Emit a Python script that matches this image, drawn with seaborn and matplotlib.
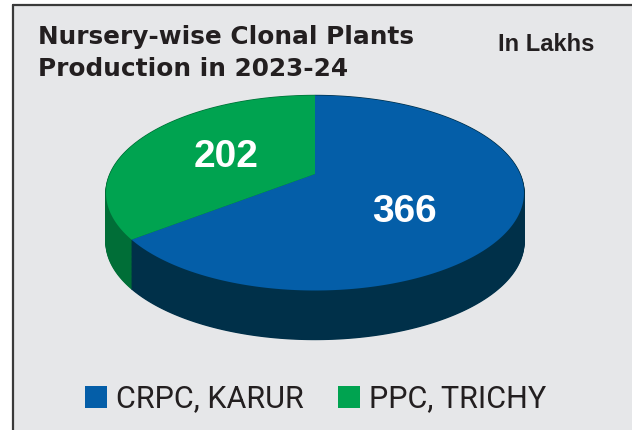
import matplotlib
matplotlib.use("Agg")
import matplotlib.pyplot as plt
import matplotlib.transforms as mtransforms
from matplotlib.path import Path
import seaborn as sns
import numpy as np
from matplotlib.patches import Rectangle
from matplotlib.lines import Line2D

# data
nurseries = ["CRPC, KARUR", "PPC, TRICHY"]
plants_lakhs = [366, 202]
top_colors = ["#045EA8", "#00A350"]
side_colors = ["#003049", "#006E37"]

W, H = 632, 430


class Perspective(mtransforms.Transform):
    """Tilted-plane projection so the pie looks like a 3D disc."""
    input_dims = output_dims = 2
    is_separable = False
    has_inverse = False

    def __init__(self, k):
        super().__init__()
        self.k = k

    def transform_non_affine(self, values):
        values = np.asarray(values, dtype=float)
        d = 1 + self.k * values[:, 1]
        return np.column_stack([values[:, 0] / d, values[:, 1] / d])

    def transform_path_non_affine(self, path):
        # flatten the bezier arcs finely before projecting
        polys = path.to_polygons(transform=mtransforms.Affine2D().scale(2000),
                                 closed_only=True)
        verts = np.concatenate(polys) / 2000
        codes = np.concatenate([[Path.MOVETO] + [Path.LINETO] * (len(p) - 2) + [Path.CLOSEPOLY]
                                for p in polys])
        return Path(self.transform_non_affine(verts), codes)


sns.set_style("white")
plt.rcParams["font.family"] = ["DejaVu Sans"]

fig = plt.figure(figsize=(W / 100, H / 100), dpi=100)
fig.patch.set_facecolor("white")

# grey panel with dark top/left border
fig.patches.append(Rectangle((13 / W, 0), 1, 1 - 5 / H, transform=fig.transFigure,
                             facecolor="#E6E7E9", edgecolor="none", zorder=-5))
fig.lines.append(Line2D([13 / W, 1], [1 - 5 / H, 1 - 5 / H], transform=fig.transFigure,
                        color="#3A3A3A", lw=1.6, zorder=-4))
fig.lines.append(Line2D([13 / W, 13 / W], [0, 1 - 5 / H], transform=fig.transFigure,
                        color="#3A3A3A", lw=1.6, zorder=-4))

ax = fig.add_axes([0, 0, 1, 1])
ax.set_zorder(1)
ax.patch.set_alpha(0)

# pie geometry in pixels: rim ellipse centre, semi axes, wall depth, tilt
cx, cy, a, b, depth, k = 315, 193, 209, 97.5, 49, 0.195
sx = a * np.sqrt(1 - k ** 2)
sy = b * (1 - k ** 2)
y0 = cy - k * b  # where the pie centre lands
persp = Perspective(k)

# side wall: stacked darker pies shifted downwards
for off in np.linspace(depth / sy, 0, 60):
    side, _ = ax.pie(plants_lakhs, colors=side_colors, startangle=90, counterclock=False,
                     wedgeprops=dict(linewidth=1))
    for w in side:
        w.set_edgecolor(w.get_facecolor())
        w.set_transform(persp + mtransforms.Affine2D().translate(0, -off) + ax.transData)

wedges, _ = ax.pie(plants_lakhs, colors=top_colors, startangle=90, counterclock=False,
                   wedgeprops=dict(linewidth=0))
for w in wedges:
    w.set_transform(persp + ax.transData)

ax.set_aspect("auto")
ax.set_xlim(-cx / sx, (W - cx) / sx)
ax.set_ylim(-(H - y0) / sy, y0 / sy)
ax.axis("off")

# value labels
value_pos = [(404, 222), (226, 167)]
for v, (px, py) in zip(plants_lakhs, value_pos):
    fig.text(px / W, 1 - py / H, str(v), ha="center", va="baseline", color="white",
             fontsize=28, fontweight="bold", family=["Liberation Sans", "DejaVu Sans"],
             zorder=5)

# titles
fig.text(38 / W, 1 - 44 / H, "Nursery-wise Clonal Plants", fontsize=17.8,
         fontweight="bold", color="#231F20", va="baseline")
fig.text(38 / W, 1 - 76 / H, "Production in 2023-24", fontsize=17.8,
         fontweight="bold", color="#231F20", va="baseline")
fig.text(498 / W, 1 - 51 / H, "In Lakhs", fontsize=17, fontweight="bold",
         color="#231F20", va="baseline", family=["Liberation Sans", "DejaVu Sans"])

leg = fig.legend(wedges, nurseries, loc="center", ncol=2, frameon=False,
                 bbox_to_anchor=(315.5 / W, 1 - 399 / H),
                 prop=dict(family=["Roboto", "DejaVu Sans"], size=22),
                 handlelength=0.72, handleheight=0.72, handletextpad=0.3,
                 columnspacing=1.1, borderaxespad=0)
for t in leg.get_texts():
    t.set_color("#231F20")

fig.savefig("out.png", dpi=100)
